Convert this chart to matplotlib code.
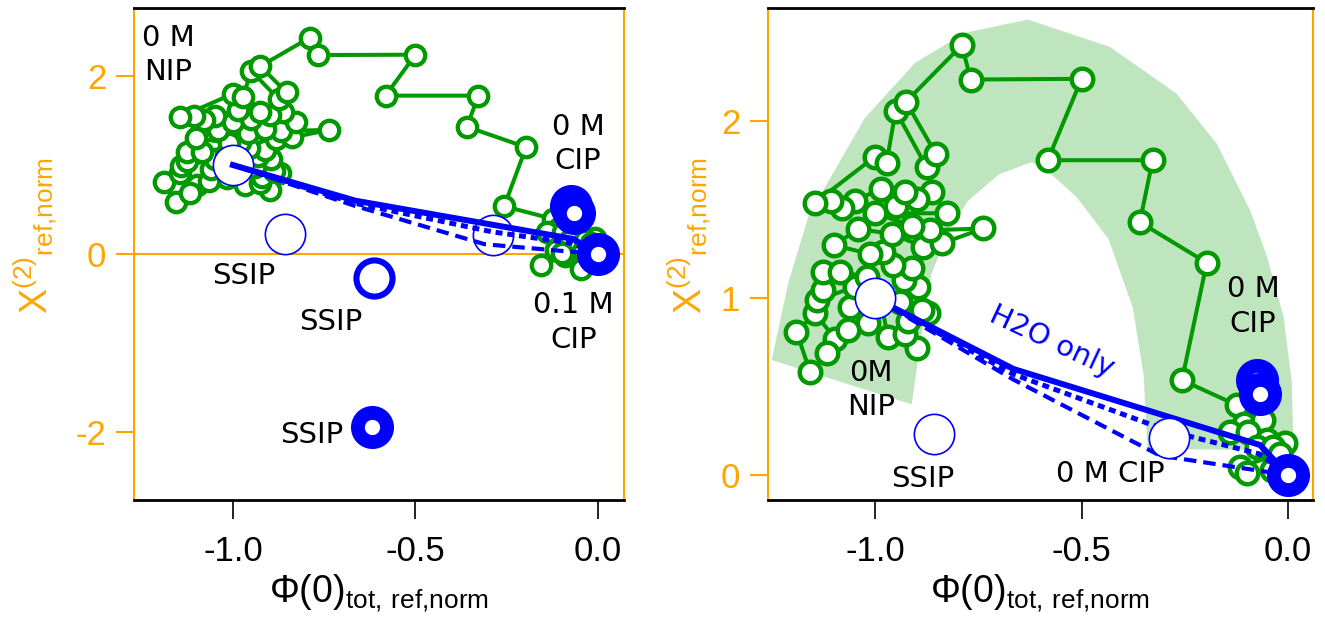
import numpy as np
import matplotlib
matplotlib.use("Agg")
import matplotlib.pyplot as plt
from matplotlib.ticker import FormatStrFormatter

plt.rcParams["font.family"] = ["Liberation Sans", "DejaVu Sans"]
plt.rcParams["mathtext.fontset"] = "custom"
plt.rcParams["mathtext.rm"] = "Liberation Sans"
plt.rcParams["axes.unicode_minus"] = False
plt.rcParams["lines.scale_dashes"] = False

ORANGE = "#ffa500"
GREEN = "#009900"
BLUE = "#0000ff"
BAND = "#bfe5bf"

# ---- green trajectory (same data in both panels) ----
traj_x = [-1.157, -1.19, -1.145, -1.097, -1.117, -1.016, -1.065, -1.06, -1.048, -1.141,
          -1.125, -1.125, -1.085, -1.02, -0.99, -0.968, -0.899, -0.927, -0.92, -0.871,
          -0.887, -0.94, -0.895, -0.93, -0.911, -0.956, -0.98, -1.012, -1.10, -1.04,
          -0.96, -0.883, -0.838, -0.738, -0.867, -0.911, -1.0, -0.826, -0.863, -0.899,
          -0.95, -0.927, -0.985, -1.048, -1.08, -1.107, -1.145, -1.0, -0.972, -0.95,
          -0.875, -0.853, -0.925,
          -0.79, -0.768, -0.50, -0.582, -0.328, -0.359, -0.197, -0.257,
          -0.124, -0.108, -0.06, -0.14, -0.096, -0.052, -0.076, -0.007, -0.036, -0.019,
          -0.116, -0.10, -0.04, 0.0]
traj_y = [0.584, 0.81, 0.914, 0.772, 0.688, 0.857, 0.819, 0.95, 1.064, 0.989,
          1.045, 1.15, 1.15, 1.12, 1.02, 0.781, 0.716, 0.80, 0.87, 0.914,
          0.932, 0.98, 1.064, 1.10, 1.168, 1.186, 1.26, 1.25, 1.30, 1.39,
          1.365, 1.29, 1.31, 1.394, 1.384, 1.41, 1.48, 1.48, 1.60, 1.56,
          1.52, 1.60, 1.62, 1.55, 1.51, 1.55, 1.54, 1.80, 1.765, 2.06,
          1.74, 1.817, 2.11,
          2.43, 2.236, 2.24, 1.78, 1.78, 1.43, 1.20, 0.537,
          0.395, 0.29, 0.31, 0.245, 0.245, 0.198, 0.16, 0.18, 0.16, 0.12,
          0.047, 0.01, 0.03, 0.0]

# extra points seen only in the left panel, below zero near CIP
left_tail_x = [-0.116, -0.157, -0.09, -0.047, 0.0]
left_tail_y = [0.047, -0.127, -0.02, -0.165, 0.0]

# ---- blue model lines ----
solid_x = [-1.0, -0.665, -0.068, 0.0]
solid_y = [1.0, 0.60, 0.17, 0.0]
dash_a_x = [-1.0, -0.665, -0.29, -0.07, 0.0]
dash_a_y = [1.0, 0.57, 0.25, 0.12, 0.0]
dash_b_x = [-1.0, -0.665, -0.31, 0.0]
dash_b_y = [1.0, 0.54, 0.11, 0.0]

# ---- blue reference points ----
thin_x = [-1.0, -0.857, -0.289]          # white, thin edge
thin_y = [1.0, 0.23, 0.21]
ring_x = [-0.614]                         # open ring
ring_y = [-0.27]
thick_x = [-0.619, -0.075, -0.067, 0.0]   # heavy ring, small hole
thick_y = [-1.94, 0.535, 0.46, 0.0]

# ---- shaded band (right panel) ----
band_outer_x = [-1.25, -1.21, -1.16, -1.024, -0.903, -0.782, -0.63, -0.431, -0.27,
                -0.173, -0.092, -0.052, -0.011, 0.009, 0.013]
band_outer_y = [0.65, 1.085, 1.47, 2.02, 2.33, 2.50, 2.575, 2.42, 2.156,
                1.874, 1.497, 1.24, 0.894, 0.52, 0.141]
band_inner_x = [-0.911, -0.887, -0.863, -0.823, -0.775, -0.70, -0.622, -0.593,
                -0.512, -0.435, -0.376, -0.35, -0.34]
band_inner_y = [0.40, 0.80, 1.14, 1.37, 1.55, 1.70, 1.768, 1.742,
                1.572, 1.335, 0.947, 0.57, 0.147]

# ---- annotations ----
left_notes = [("0 M\nNIP", -1.178, 2.236), ("0 M\nCIP", -0.055, 1.236),
              ("SSIP", -0.97, -0.25), ("SSIP", -0.732, -0.76),
              ("SSIP", -0.783, -2.03), ("0.1 M\nCIP", -0.068, -0.77)]
right_notes = [("0M\nNIP", -1.01, 0.48), ("SSIP", -0.885, -0.02),
               ("0 M CIP", -0.431, 0.008), ("0 M\nCIP", -0.085, 0.952)]

XLABEL = r"$\mathregular{\Phi(0)_{tot,\,ref{,}norm}}$"
YLABEL = r"$\mathregular{X^{(2)}{}_{ref{,}norm}}$"


def style_axes(ax, xlim, ylim, yticks, ylab_x):
    ax.set_xlim(*xlim)
    ax.set_ylim(*ylim)
    ax.set_xticks([-1.0, -0.5, 0.0])
    ax.xaxis.set_major_formatter(FormatStrFormatter("%.1f"))
    ax.set_yticks(yticks)
    for side in ("left", "right"):
        ax.spines[side].set_color(ORANGE)
        ax.spines[side].set_linewidth(1.5)
    for side in ("top", "bottom"):
        ax.spines[side].set_color("black")
        ax.spines[side].set_linewidth(2)
    ax.tick_params(axis="x", direction="out", length=14, width=1.2,
                   labelsize=25, pad=11)
    ax.tick_params(axis="y", direction="out", length=13, width=1.5,
                   color=ORANGE, labelcolor=ORANGE, labelsize=25, pad=7)
    ax.set_xlabel(XLABEL, fontsize=27, va="center")
    ax.xaxis.set_label_coords(0.5, -0.19)
    ax.set_ylabel(YLABEL, fontsize=27, color=ORANGE, va="center")
    ax.yaxis.set_label_coords(ylab_x, 0.5376)


def draw_blue(ax, z_lines, z_thin):
    ax.plot(solid_x, solid_y, color=BLUE, lw=4.3, zorder=z_lines)
    ax.plot(dash_a_x, dash_a_y, color=BLUE, lw=3.6, dashes=(5, 3.5), zorder=z_lines)
    ax.plot(dash_b_x, dash_b_y, color=BLUE, lw=3.0, dashes=(9, 5), zorder=z_lines)
    ax.plot(thin_x, thin_y, "o", ms=29, mfc="white", mec=BLUE, mew=1.2,
            ls="none", zorder=z_thin)
    ax.plot(ring_x, ring_y, "o", ms=26, mfc="white", mec=BLUE, mew=4.4,
            ls="none", zorder=5)
    ax.plot(thick_x, thick_y, "o", ms=21, mfc="white", mec=BLUE, mew=10,
            ls="none", zorder=5)


def draw_notes(ax, notes):
    for txt, x, y in notes:
        ax.text(x, y, txt, family="DejaVu Sans", fontsize=21, ha="center",
                va="center", linespacing=1.3, zorder=6)


fig = plt.figure(figsize=(13.25, 6.2), dpi=100)
axL = fig.add_axes([0.1011, 0.1935, 0.3698, 0.7935])
axR = fig.add_axes([0.5796, 0.1935, 0.4113, 0.7935])

# left panel
axL.axhline(0, color=ORANGE, lw=1.5, zorder=1)
axL.plot(left_tail_x, left_tail_y, "o-", color=GREEN, lw=2.9, ms=14, mfc="white",
         mec=GREEN, mew=3.1, zorder=2)
axL.plot(traj_x, traj_y, "o-", color=GREEN, lw=2.9, ms=14, mfc="white",
         mec=GREEN, mew=3.1, zorder=2)
draw_blue(axL, z_lines=4, z_thin=3)
draw_notes(axL, left_notes)
style_axes(axL, (-1.271, 0.071), (-2.764, 2.764), [-2, 0, 2], -0.2)

# right panel
axR.fill(band_outer_x + band_inner_x[::-1], band_outer_y + band_inner_y[::-1],
         color=BAND, lw=0, zorder=0.5)
axR.plot(traj_x, traj_y, "o-", color=GREEN, lw=2.9, ms=15.5, mfc="white",
         mec=GREEN, mew=3.2, zorder=2)
draw_blue(axR, z_lines=3, z_thin=4)
draw_notes(axR, right_notes)
axR.text(-0.573, 0.753, "H2O only", family="DejaVu Sans", fontsize=21,
         color=BLUE, rotation=-25, ha="center", va="center", zorder=6)
style_axes(axR, (-1.259, 0.06), (-0.141, 2.64), [0, 1, 2], -0.143)

fig.savefig("out.png", dpi=100)
